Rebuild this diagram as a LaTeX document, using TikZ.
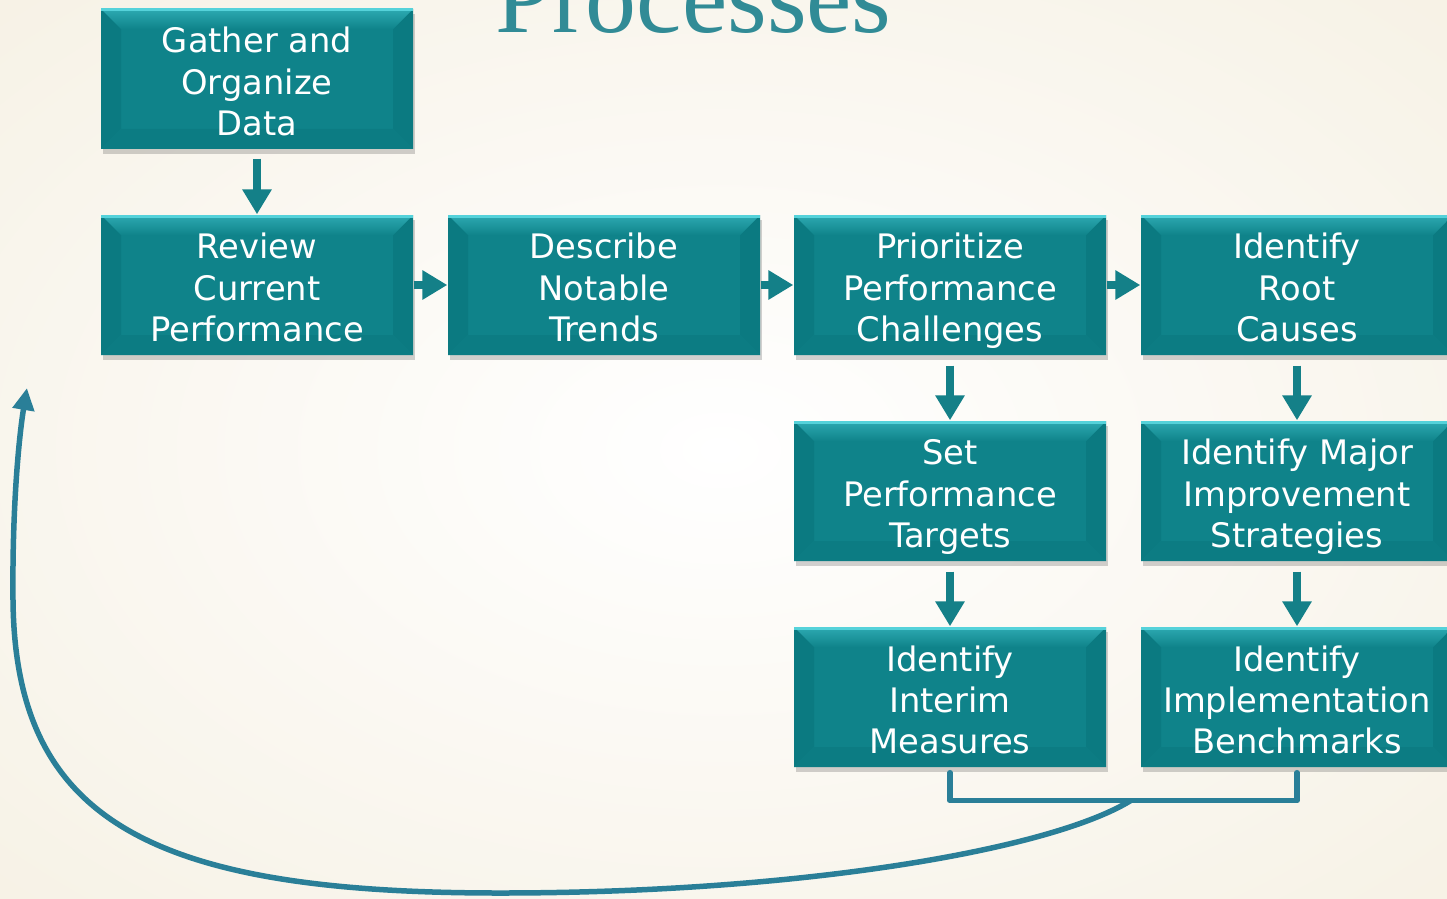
\documentclass[tikz,border=0pt]{standalone}
\usepackage{fontspec}
\setmainfont{DejaVu Sans}
\newfontfamily\titlefont{Liberation Serif}
\usetikzlibrary{calc,arrows.meta,shadows}
\definecolor{bgcream}{RGB}{243,236,219}
\definecolor{boxface}{RGB}{15,131,138}
\definecolor{boxupper}{RGB}{45,170,178}
\definecolor{boxtop}{RGB}{85,210,218}
\definecolor{boxside}{RGB}{11,122,129}
\definecolor{boxbottom}{RGB}{12,124,131}
\definecolor{arrowteal}{RGB}{20,128,136}
\definecolor{loopblue}{RGB}{42,127,152}
\definecolor{titleteal}{RGB}{49,139,150}
\def\bev{0.2cm}
\def\bevelpic{%
	\fill[boxside] (path picture bounding box.north west) -- ([shift={(\bev,-\bev)}]path picture bounding box.north west) -- ([shift={(\bev,\bev)}]path picture bounding box.south west) -- (path picture bounding box.south west) -- cycle;
	\fill[boxside] (path picture bounding box.north east) -- ([shift={(-\bev,-\bev)}]path picture bounding box.north east) -- ([shift={(-\bev,\bev)}]path picture bounding box.south east) -- (path picture bounding box.south east) -- cycle;
	\fill[boxbottom] (path picture bounding box.south west) -- ([shift={(\bev,\bev)}]path picture bounding box.south west) -- ([shift={(-\bev,\bev)}]path picture bounding box.south east) -- (path picture bounding box.south east) -- cycle;
	\shade[top color=boxupper, bottom color=boxface] (path picture bounding box.north west) -- (path picture bounding box.north east) -- ([shift={(-\bev,-\bev)}]path picture bounding box.north east) -- ([shift={(\bev,-\bev)}]path picture bounding box.north west) -- cycle;
	\draw[boxtop, line width=0.05cm] (path picture bounding box.north west) -- (path picture bounding box.north east);
}
\tikzset{
	procbox/.style={rectangle, fill=boxface, minimum width=3.12cm, minimum height=1.4cm, inner sep=0pt, text=white, align=center, font=\fontsize{9.6}{11.7}\selectfont, text height=32pt, text depth=0pt, drop shadow={shadow xshift=0.02cm, shadow yshift=-0.05cm, opacity=0.25, fill=black!70}, path picture={\bevelpic}},
	flowarrow/.style={draw=arrowteal, line width=0.08cm, -{Triangle[width=0.28cm,length=0.25cm]}},
	loopline/.style={draw=loopblue, line width=0.055cm, line join=round, line cap=round},
}

\begin{document}
\begin{tikzpicture}
		%%%%% START %%%%%
		\useasboundingbox (0,0) rectangle (14.47,-8.98);
		\begin{scope}
		\clip (0,0) rectangle (14.47,-8.98);
		\fill[bgcream] (0,0) rectangle (14.47,-8.98);
		\shade[inner color=white, outer color=bgcream] (-7.3,4.6) rectangle (21.7,-13.6);
		
		\node[text=titleteal, anchor=base, font=\titlefont\fontsize{29}{30}\selectfont] (title) at (6.935,-0.33) {Processes};
		
		\node[procbox] (gather) at (2.57,-0.79) {Gather and\\Organize\\Data};
		\node[procbox] (review) at (2.57,-2.85) {Review\\Current\\Performance};
		\node[procbox] (trends) at (6.04,-2.85) {Describe\\Notable\\Trends};
		\node[procbox] (prioritize) at (9.50,-2.85) {Prioritize\\Performance\\Challenges};
		\node[procbox] (rootcause) at (12.97,-2.85) {Identify\\Root\\Causes};
		
		\node[procbox] (targets) at (9.50,-4.91) {Set\\Performance\\Targets};
		\node[procbox] (strategies) at (12.97,-4.91) {Identify Major\\Improvement\\Strategies};
		\node[procbox] (interim) at (9.50,-6.97) {Identify\\Interim\\Measures};
		\node[procbox] (benchmarks) at (12.97,-6.97) {Identify\\Implementation\\Benchmarks};
		
		\draw[flowarrow, shorten <=0.09cm] (gather) -- (review);
		\draw[flowarrow] (review) -- (trends);
		\draw[flowarrow] (trends) -- (prioritize);
		\draw[flowarrow] (prioritize) -- (rootcause);
		\draw[flowarrow, shorten <=0.1cm] (prioritize) -- (targets);
		\draw[flowarrow, shorten <=0.1cm] (rootcause) -- (strategies);
		\draw[flowarrow, shorten <=0.1cm] (targets) -- (interim);
		\draw[flowarrow, shorten <=0.1cm] (strategies) -- (benchmarks);
		
		% bracket under the last row and the loop back
		\draw[loopline] ([yshift=-0.05cm]interim.south) -- ++(0,-0.28) coordinate (bl) -- (bl -| benchmarks.south) coordinate (br) -- ([yshift=-0.05cm]benchmarks.south);
		\coordinate (join) at ($(bl)!0.52!(br)$);
		\coordinate (backtop) at (0.27,-3.88);
		\draw[loopline, -{Triangle[width=0.21cm,length=0.22cm]}] (join) .. controls (10.5,-8.5) and (8,-8.93) .. (5.0,-8.93) .. controls (1.5,-8.93) and (0.15,-8.2) .. (0.13,-6.0) .. controls (0.12,-5.0) and (0.2,-4.3) .. (backtop);
		\end{scope}
		%%%%% END %%%%%
\end{tikzpicture}
\end{document}
